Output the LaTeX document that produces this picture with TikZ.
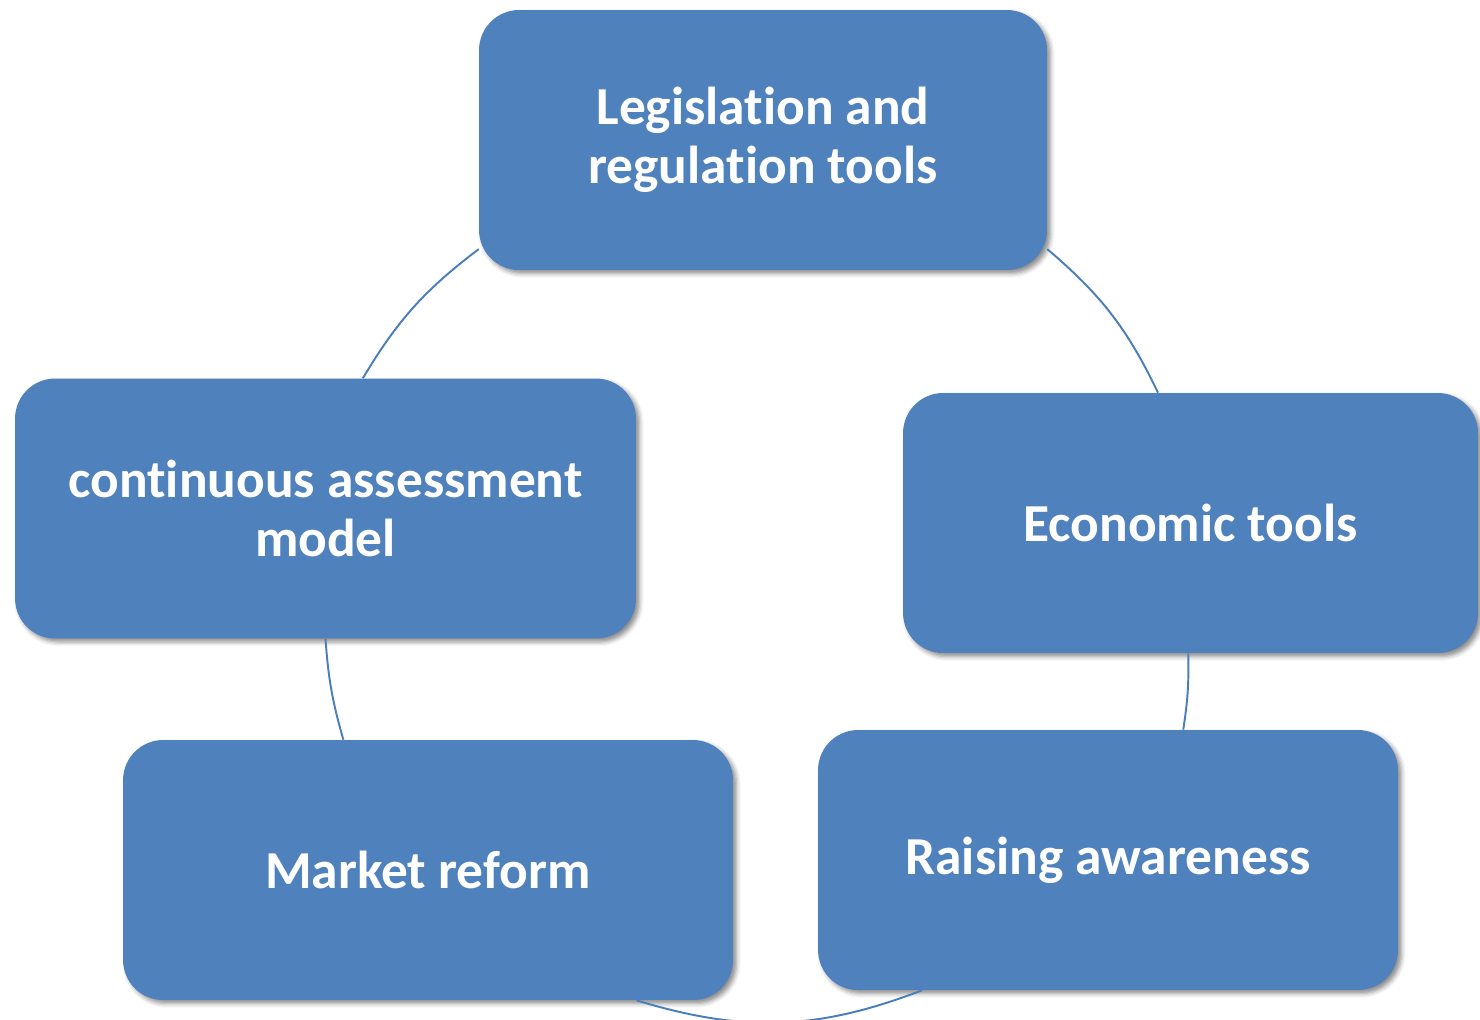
\documentclass[tikz,border=0pt]{standalone}
\usepackage{fontspec}
\setmainfont[Ligatures=NoCommon]{Carlito}
\usetikzlibrary{shadows.blur}
\definecolor{boxblue}{HTML}{4F81BD}
\definecolor{arcblue}{HTML}{4A7EBB}

\begin{document}
\begin{tikzpicture}
      [x=0.02cm, y=0.02cm,
        element/.style={
          rectangle, rounded corners=0.8cm,
          fill=boxblue,
          text=white,
          font=\fontsize{30.4}{33.5}\selectfont\bfseries,
          align=center,
          minimum height=5.2cm,
          blur shadow={shadow xshift=2pt, shadow yshift=-2pt,
            shadow blur radius=2.5pt, shadow opacity=45}},
        line/.style={draw=arcblue, line width=1.1pt},]
      \useasboundingbox (0,0) rectangle (1480,-1019);
      \node[element, minimum width=11.36cm] (legislation) at (763,-140) {Legislation and\\regulation tools};
      \node[element, minimum width=11.5cm] (economic) at (1190.5,-523) {Economic tools};
      \node[element, minimum width=11.6cm] (awareness) at (1108,-860) {Raising awareness};
      \node[element, minimum width=12.2cm] (market) at (428,-870) {Market reform};
      \node[element, minimum width=12.42cm] (assessment) at (325.5,-508.5) {continuous assessment\\model};
      \draw[line] (legislation.-21) to[bend left=12] (economic.104);
      \draw[line] (economic.269) to[bend left=5] (awareness.60);
      \draw[line] (awareness.215) to[bend left=19] (market.-32);
      \draw[line] (market.123) to[bend left=6] (assessment.south);
      \draw[line] (assessment.74) to[bend left=11] (legislation.201);
    \end{tikzpicture}
\end{document}
